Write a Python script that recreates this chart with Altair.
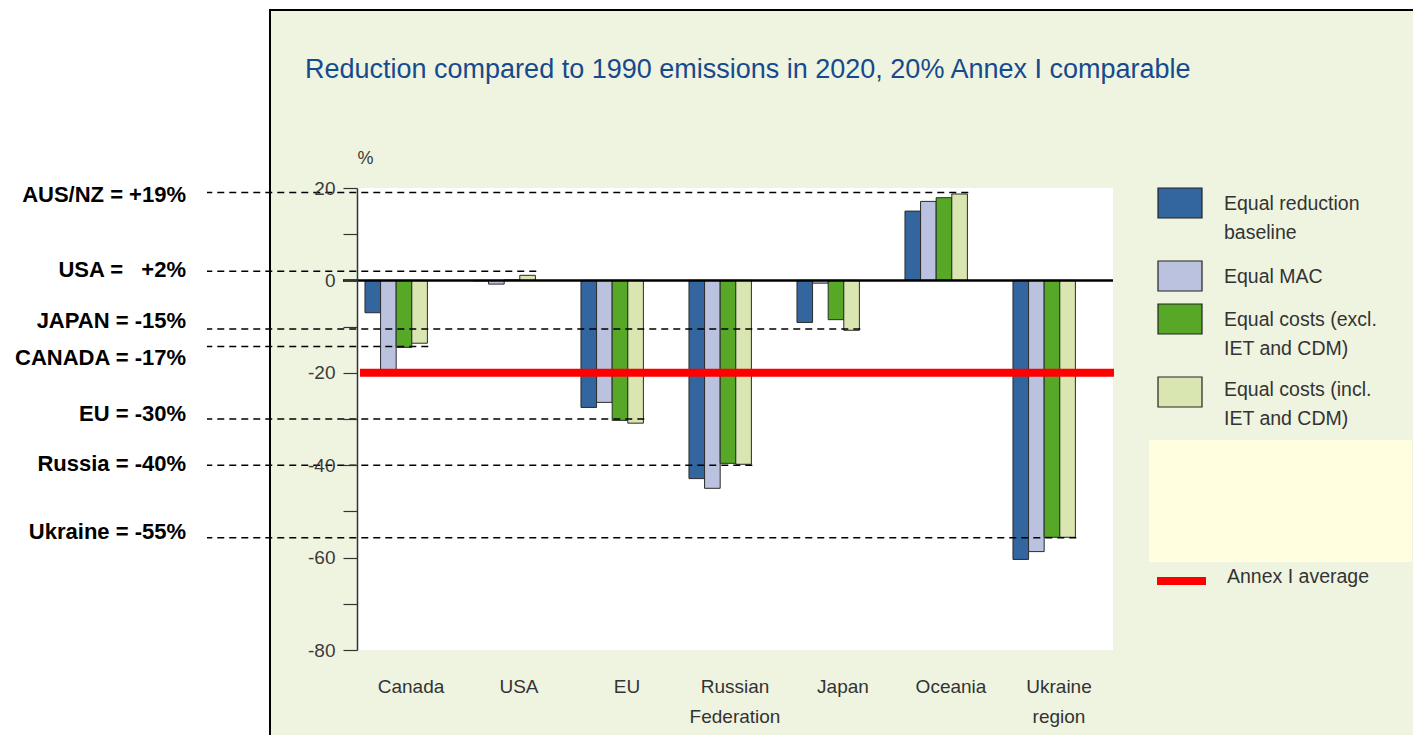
import altair as alt
import pandas as pd

# ---------------- data ----------------
categories = ["Canada", "USA", "EU", "Russian Federation", "Japan", "Oceania", "Ukraine region"]
series = [
    "Equal reduction baseline",
    "Equal MAC",
    "Equal costs (excl. IET and CDM)",
    "Equal costs (incl. IET and CDM)",
]
series_colors = ["#33669F", "#BAC2E0", "#58A827", "#DAE6B1"]
legend_lines = [
    ["Equal reduction", "baseline"],
    ["Equal MAC"],
    ["Equal costs (excl.", "IET and CDM)"],
    ["Equal costs (incl.", "IET and CDM)"],
]

equal_reduction = [-7.0, -0.1, -27.5, -42.9, -9.1, 15.0, -60.4]
equal_mac = [-19.3, -0.8, -26.4, -45.0, -0.6, 17.1, -58.7]
equal_costs_excl = [-14.5, 0.1, -30.3, -39.6, -8.5, 17.9, -55.6]
equal_costs_incl = [-13.6, 1.1, -30.9, -39.8, -10.8, 18.7, -55.6]

annex_average = [-20]
annex_label = "Annex I average"
zero_value = [0]

NB = "\u00a0"
note_labels = [
    "AUS/NZ = +19%",
    "USA =" + NB * 3 + "+2%",
    "JAPAN = -15%",
    "CANADA = -17%",
    "EU = -30%",
    "Russia = -40%",
    "Ukraine = -55%",
]
note_line_values = [19, 2, -10.5, -14.3, -30, -40, -55.7]
note_text_values = [18.4, 2.2, -8.7, -16.7, -29.0, -39.8, -54.5]
note_targets = ["Oceania", "USA", "Japan", "Canada", "EU", "Russian Federation", "Ukraine region"]

title_text = "Reduction compared to 1990 emissions in 2020, 20% Annex I comparable"
y_tick_values = [-80, -70, -60, -50, -40, -30, -20, -10, 0, 10, 20]

# ---------------- tables ----------------
values_by_series = [equal_reduction, equal_mac, equal_costs_excl, equal_costs_incl]
rows = []
for s, vals in zip(series, values_by_series):
    for c, v in zip(categories, vals):
        rows.append({"category": c, "series": s, "value": v})
bars_df = pd.DataFrame(rows)

notes_df = pd.DataFrame({
    "label": note_labels,
    "line_value": note_line_values,
    "text_value": note_text_values,
    "target": note_targets,
})
annex_df = pd.DataFrame({"v": annex_average})
zero_df = pd.DataFrame({"v": zero_value})
one = pd.DataFrame({"k": [0]})

# ---------------- layout ----------------
W, H = 756, 462
FONT = "Liberation Sans"
PANEL = "#EFF4E1"

xscale = alt.Scale(domain=categories, paddingInner=0, paddingOuter=0)
# two empty slots after the four bars leave the gap on the right of each group
offscale = alt.Scale(domain=series + ["_gap1", "_gap2"], paddingInner=0, paddingOuter=0.46, align=0.555)
yscale = alt.Scale(domain=[-80, 20], nice=False, zero=False)

x_axis = alt.Axis(
    domain=False, ticks=False, tickSize=0, labelPadding=27,
    labelExpr="split(datum.value, ' ')", labelFont=FONT, labelFontSize=19,
    labelColor="#333333", labelLineHeight=30, labelAngle=0,
    labelOverlap=False, labelLimit=0, grid=False, zindex=1,
)
y_axis = alt.Axis(
    values=y_tick_values,
    labelExpr="datum.value % 20 == 0 ? '' + datum.value : ''",
    tickSize=14, labelPadding=8, domainColor="#333333", tickColor="#333333",
    domainWidth=1.5, tickWidth=1.2, labelColor="#3a3a3a", labelFont=FONT,
    labelFontSize=19, grid=False, titleAngle=0, titleX=8, titleY=-30,
    titleAlign="center", titleBaseline="middle", titleFont=FONT,
    titleFontSize=18, titleFontWeight="normal", titleColor="#3a3a3a", zindex=1,
)

# white margin left of the panel, and the panel's black left / top border
left_margin = alt.Chart(one).mark_rect(fill="white").encode(
    x=alt.value(-360), x2=alt.value(-87), y=alt.value(-200), y2=alt.value(700)
)
top_margin = alt.Chart(one).mark_rect(fill="white").encode(
    x=alt.value(-360), x2=alt.value(1100), y=alt.value(-200), y2=alt.value(-178)
)
border_left = alt.Chart(one).mark_rule(color="black", strokeWidth=2).encode(
    x=alt.value(-87), y=alt.value(-179), y2=alt.value(700)
)
border_top = alt.Chart(one).mark_rule(color="black", strokeWidth=2).encode(
    x=alt.value(-88), x2=alt.value(1100), y=alt.value(-178)
)

bars = alt.Chart(bars_df).mark_bar(stroke="#2a2a2a", strokeWidth=1).encode(
    x=alt.X("category:N", scale=xscale, title=None, axis=x_axis),
    xOffset=alt.XOffset("series:N", scale=offscale),
    y=alt.Y("value:Q", scale=yscale, title="%", axis=y_axis),
    color=alt.Color("series:N", scale=alt.Scale(domain=series, range=series_colors), legend=None),
)

zero_line = alt.Chart(zero_df).mark_rule(color="black", strokeWidth=2.5).encode(
    y=alt.Y("v:Q", scale=yscale, title="%", axis=y_axis), x=alt.value(-14), x2=alt.value(W)
)
annex_line = alt.Chart(annex_df).mark_rule(color="#FF0000", strokeWidth=8).encode(
    y=alt.Y("v:Q", scale=yscale, title="%", axis=y_axis), x=alt.value(3), x2=alt.value(W + 1)
)

dashes = alt.Chart(notes_df).mark_rule(color="black", strokeWidth=1.5, strokeDash=[7, 5]).encode(
    x=alt.X("target:N", scale=xscale, bandPosition=0.66, title=None, axis=x_axis),
    x2=alt.value(-150),
    y=alt.Y("line_value:Q", scale=yscale, title="%", axis=y_axis),
)
note_text = alt.Chart(notes_df).mark_text(
    align="right", baseline="middle", font=FONT, fontSize=22,
    fontWeight="bold", color="black"
).encode(
    x=alt.value(-171),
    y=alt.Y("text_value:Q", scale=yscale, title="%", axis=y_axis),
    text="label:N",
)

title = alt.Chart(one).mark_text(
    text=title_text, align="left", baseline="middle", font=FONT, fontSize=27, color="#174A8C"
).encode(x=alt.value(-52), y=alt.value(-118))

layers = [left_margin, top_margin, border_left, border_top, bars, zero_line,
          annex_line, dashes, note_text, title]

# legend
rect_tops = [0, 73, 116, 189]
label_centers = [16, 89, 132, 202]
for col, lines, rt, lc in zip(series_colors, legend_lines, rect_tops, label_centers):
    layers.append(
        alt.Chart(one).mark_rect(fill=col, stroke="#222222", strokeWidth=1.2).encode(
            x=alt.value(801), x2=alt.value(845), y=alt.value(rt), y2=alt.value(rt + 30)
        )
    )
    layers.append(
        alt.Chart(one).mark_text(
            text=lines, align="left", baseline="alphabetic", lineHeight=29,
            font=FONT, fontSize=19.5, color="#333333"
        ).encode(x=alt.value(867), y=alt.value(lc + 6))
    )

layers.append(
    alt.Chart(one).mark_rect(fill="#FFFFE0").encode(
        x=alt.value(792), x2=alt.value(1055), y=alt.value(252), y2=alt.value(374)
    )
)
layers.append(
    alt.Chart(one).mark_rect(fill="#FF0000").encode(
        x=alt.value(800), x2=alt.value(849), y=alt.value(389), y2=alt.value(397)
    )
)
layers.append(
    alt.Chart(one).mark_text(
        text=annex_label, align="left", baseline="middle", font=FONT, fontSize=19.5, color="#333333"
    ).encode(x=alt.value(870), y=alt.value(389))
)

chart = alt.layer(*layers).properties(
    width=W,
    height=H,
    autosize=alt.AutoSizeParams(type="none"),
    padding={"left": 349, "top": 180, "right": 300, "bottom": 85},
    background=PANEL,
).configure_view(fill="white", stroke=None)

chart.save("out.html", embed_options={"renderer": "svg", "actions": False})
